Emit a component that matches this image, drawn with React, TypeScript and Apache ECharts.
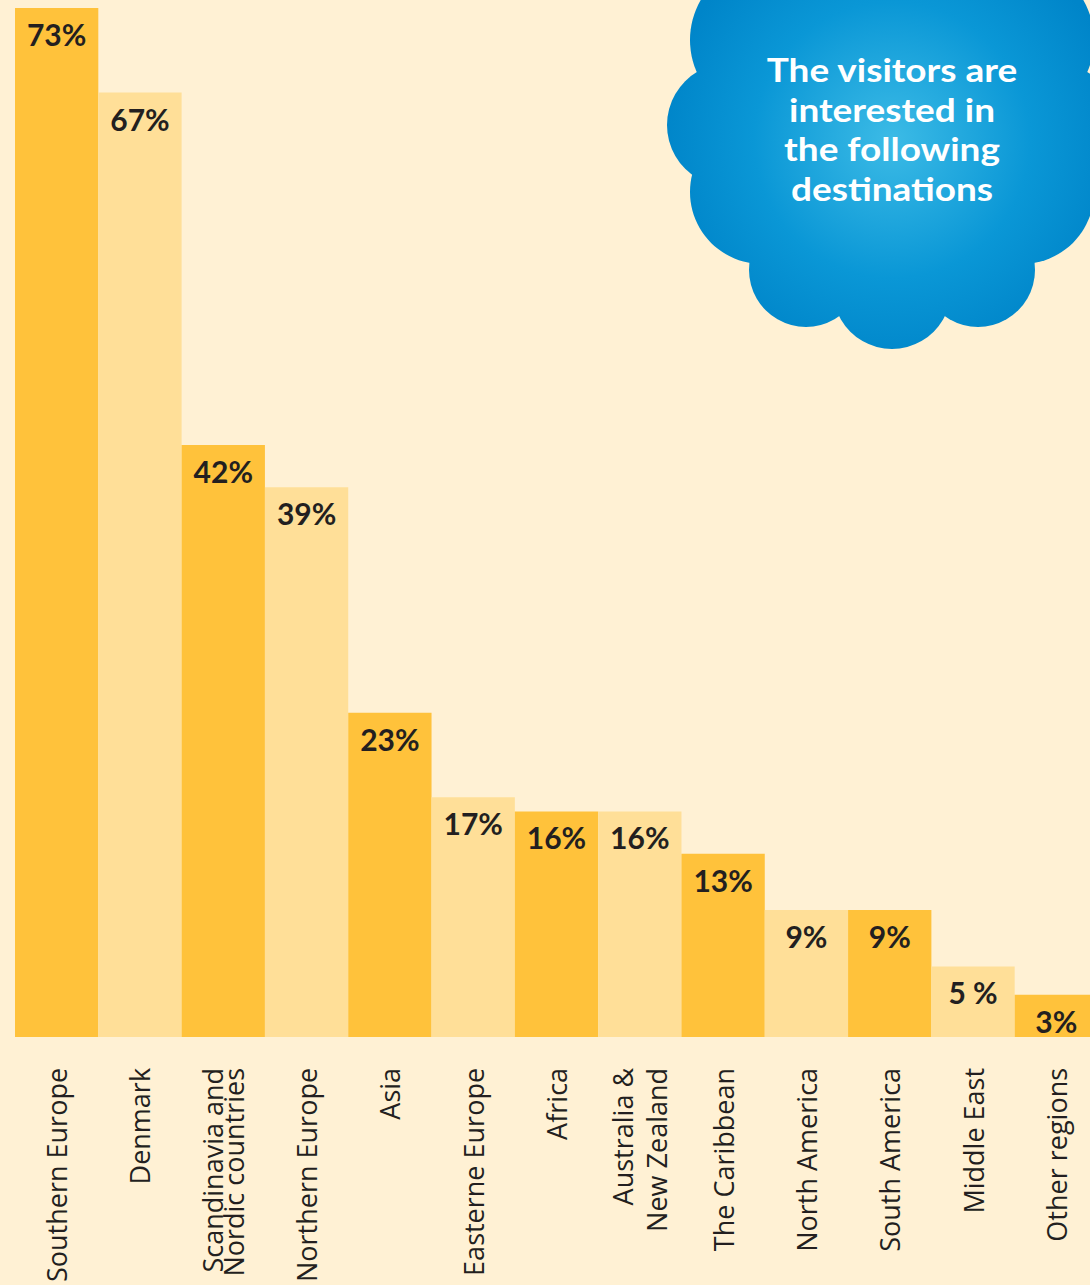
import React, { useEffect, useRef } from "react";
import * as echarts from "echarts";

const categories = [
  "Southern Europe",
  "Denmark",
  "Scandinavia and\nNordic countries",
  "Northern Europe",
  "Asia",
  "Easterne Europe",
  "Africa",
  "Australia &\nNew Zealand",
  "The Caribbean",
  "North America",
  "South America",
  "Middle East",
  "Other regions",
];
const values = [73, 67, 42, 39, 23, 17, 16, 16, 13, 9, 9, 5, 3];
const valueLabels = ["73%", "67%", "42%", "39%", "23%", "17%", "16%", "16%", "13%", "9%", "9%", "5 %", "3%"];
const cloudLines = ["The visitors are", "interested in", "the following", "destinations"];

const BG = "#FFF1D4";
const DARK = "#FFC23B";
const LIGHT = "#FFDF98";
const INK = "#231F20";

export default function App() {
  const ref = useRef<HTMLDivElement>(null);
  useEffect(() => {
    if (!ref.current) return;
    const chart = echarts.init(ref.current, null, { renderer: "svg" });
    const grad = new echarts.graphic.RadialGradient(
      892,
      140,
      230,
      [
        { offset: 0, color: "#3CBBE6" },
        { offset: 0.6, color: "#0A97D6" },
        { offset: 1, color: "#0085C9" },
      ],
      true
    );
    const circles: [number, number, number][] = [
      [892, 150, 165],
      [892, 60, 140],
      [770, 40, 80],
      [1014, 40, 80],
      [729, 125, 62],
      [1055, 125, 62],
      [762, 192, 72],
      [1022, 192, 72],
      [806, 270, 57],
      [978, 270, 57],
      [892, 290, 59],
    ];
    chart.setOption({
      animation: false,
      backgroundColor: BG,
      grid: { left: 15, top: 8, right: 0, bottom: 248, containLabel: false },
      xAxis: {
        type: "category",
        data: categories.map((c) => ({
          value: c,
          textStyle: { lineHeight: c.startsWith("Scandinavia") ? 21 : 34 },
        })),
        axisLine: { show: false },
        axisTick: { show: false },
        axisLabel: {
          rotate: 90,
          interval: 0,
          margin: 31,
          color: INK,
          fontFamily: "Open Sans",
          fontSize: 27,
        },
      },
      yAxis: { type: "value", min: 0, max: 73, show: false, splitLine: { show: false } },
      series: [
        {
          type: "bar",
          data: values,
          barCategoryGap: 0,
          itemStyle: {
            color: (p: any) => (p.dataIndex % 2 === 0 ? DARK : LIGHT),
          },
          label: {
            show: true,
            position: "insideTop",
            distance: 11,
            formatter: (p: any) => valueLabels[p.dataIndex],
            color: INK,
            fontFamily: "Lato",
            fontWeight: "bold",
            fontSize: 30,
            lineHeight: 30,
          },
        },
      ],
      graphic: [
        {
          type: "group",
          children: [
            ...circles.map(([cx, cy, r]) => ({
              type: "circle",
              shape: { cx, cy, r },
              style: { fill: grad },
            })),
            ...cloudLines.map((t, i) => ({
              type: "text",
              x: 892,
              y: 69 + i * 39.5,
              scaleX: 1.12,
              style: {
                text: t,
                fill: "#FFFFFF",
                font: "bold 33px Lato",
                textAlign: "center",
                textVerticalAlign: "middle",
              },
            })),
          ],
        },
      ],
    });
    return () => chart.dispose();
  }, []);
  return (
    <div
      style={{ position: "absolute", left: 0, top: 0, width: 1090, height: 1285, overflow: "hidden" }}
    >
      <div ref={ref} style={{ width: 1098, height: 1285 }} />
    </div>
  );
}
